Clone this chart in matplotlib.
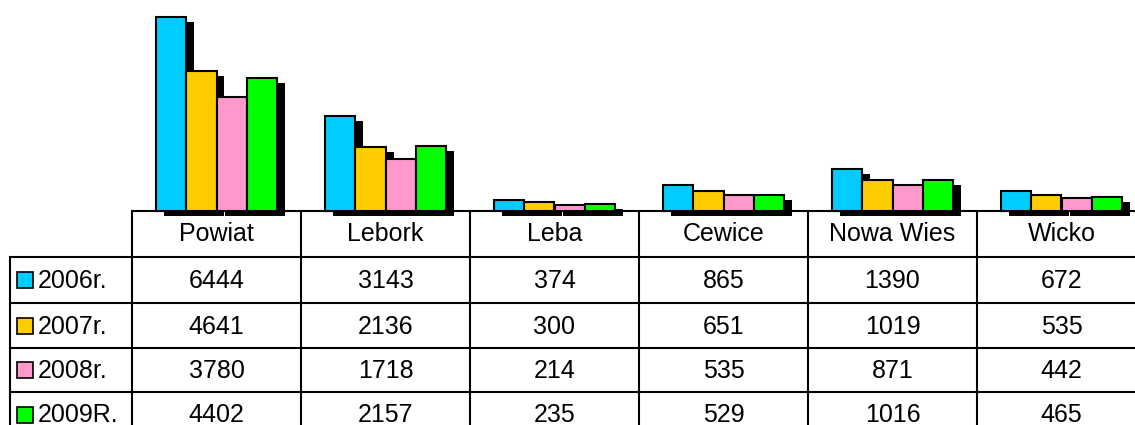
import numpy as np
import matplotlib.pyplot as plt
from matplotlib.patches import Rectangle

plt.rcParams['font.family'] = ['Liberation Sans', 'DejaVu Sans']

places = ['Powiat', 'Lebork', 'Leba', 'Cewice', 'Nowa Wies', 'Wicko']
years = ['2006r.', '2007r.', '2008r.', '2009R.']
v2006 = [6444, 3143, 374, 865, 1390, 672]
v2007 = [4641, 2136, 300, 651, 1019, 535]
v2008 = [3780, 1718, 214, 535, 871, 442]
v2009 = [4402, 2157, 235, 529, 1016, 465]
series = [v2006, v2007, v2008, v2009]
colors = ['#00CCFF', '#FFCC00', '#FF99CC', '#00FF00']

W, H = 1135, 425
fig = plt.figure(figsize=(W / 100, H / 100), dpi=100)

# table layer in pixel coordinates
tab = fig.add_axes([0, 0, 1, 1])
tab.set_xlim(0, W)
tab.set_ylim(H, 0)
tab.axis('off')

col0 = 132
colw = 169
base = 211
rows = [211, 257, 303, 348, 392, 437]
lw = 1.5

# horizontal lines
tab.plot([col0, W], [rows[0], rows[0]], color='black', lw=lw)
for r in rows[1:-1]:
    tab.plot([10, W], [r, r], color='black', lw=lw)
# vertical lines
tab.plot([10, 10], [rows[1], H], color='black', lw=lw)
for i in range(len(places) + 1):
    x = col0 + i * colw
    tab.plot([x, x], [rows[0], H], color='black', lw=lw)

fs = 18
for i, p in enumerate(places):
    cx = col0 + (i + 0.5) * colw
    tab.text(cx, (rows[0] + rows[1]) / 2, p, ha='center', va='center', fontsize=fs)
    for j, s in enumerate(series):
        tab.text(cx, (rows[j + 1] + rows[j + 2]) / 2 + 1, str(s[i]),
                 ha='center', va='center', fontsize=fs)

for j, y in enumerate(years):
    cy = (rows[j + 1] + rows[j + 2]) / 2
    tab.add_patch(Rectangle((17, cy - 8), 16, 16, facecolor=colors[j],
                            edgecolor='black', lw=1.2))
    tab.text(38, cy + 1, y, ha='left', va='center', fontsize=fs)

# bar chart axes aligned with table columns
ncol = len(places)
ax = fig.add_axes([col0 / W, (H - base) / H, ncol * colw / W, base / H])
ax.set_xlim(-0.5, ncol - 0.5)
ax.set_ylim(0, 7000)
ax.axis('off')

x = np.arange(ncol)
bw = 0.18
dx = 8 / colw
dy = 5 * 7000 / base
offs = [-1.5, -0.5, 0.5, 1.5]
for j, s in enumerate(series):
    for i, v in enumerate(s):
        ax.add_patch(Rectangle((x[i] + offs[j] * bw - bw / 2 + dx, -dy), bw, v,
                               facecolor='black', edgecolor='none',
                               clip_on=False, zorder=1))
for j, s in enumerate(series):
    ax.bar(x + offs[j] * bw, s, width=bw, color=colors[j], edgecolor='black',
           linewidth=1.5, zorder=2, clip_on=False)

fig.savefig('out.png', dpi=100)
